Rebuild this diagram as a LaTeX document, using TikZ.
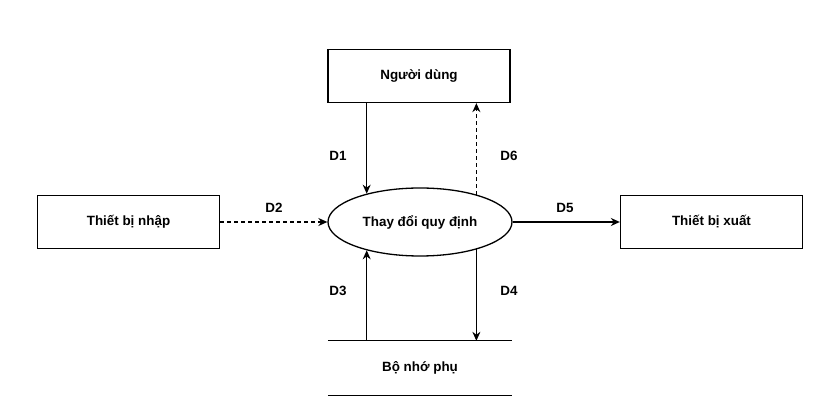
\documentclass[tikz,border=0pt]{standalone}
\usepackage{fontspec}
\setmainfont{Liberation Sans}
\usetikzlibrary{shapes.geometric, arrows.meta}
\newcommand{\chu}{\fontsize{13.4}{16}\selectfont\bfseries}
\tikzset{khoi/.style={draw, line width=1.3pt, minimum width=182pt, minimum height=53pt, inner sep=0pt, font=\chu},
  xuly/.style={draw, ellipse, line width=1.3pt, minimum width=184pt, minimum height=68pt, inner sep=0pt, font=\chu},
  luong/.style={line width=1.3pt, -{Stealth[length=9pt,width=8pt]}},
  dut/.style={luong, dash pattern=on 4pt off 3pt},
  nhan/.style={font=\chu}}

\begin{document}
\begin{tikzpicture}[x=1pt, y=-1pt]
\useasboundingbox (0,0) rectangle (820,419);
\node[khoi] (nguoidung) at (419,76) {Người dùng};
\node[xuly] (tdqd) at (420,222) {Thay đổi quy định};
\node[khoi] (nhap) at (128.5,222) {Thiết bị nhập};
\node[khoi] (xuat) at (711.5,222) {Thiết bị xuất};
\node[nhan, minimum width=184pt, minimum height=54pt, inner sep=0pt] (bonho) at (420,368) {Bộ nhớ phụ};
\draw[line width=1.3pt] (bonho.north west) -- (bonho.north east);
\draw[line width=1.3pt] (bonho.south west) -- (bonho.south east);
% luong du lieu
\draw[luong] (nguoidung.south -| tdqd.152) -- (tdqd.152);
\draw[dut] (tdqd.26) -- (nguoidung.south -| tdqd.26);
\draw[dut] (nhap.east) -- (tdqd.west);
\draw[luong] (tdqd.east) -- (xuat.west);
\draw[luong] (bonho.north -| tdqd.208) -- (tdqd.208);
\draw[luong] (tdqd.334) -- (bonho.north -| tdqd.334);
\node[nhan] (d1) at (338,156) {D1};
\node[nhan] (d6) at (509,156) {D6};
\node[nhan] (d2) at (274,208) {D2};
\node[nhan] (d5) at (565,208) {D5};
\node[nhan] (d3) at (338,291) {D3};
\node[nhan] (d4) at (509,291) {D4};
\end{tikzpicture}
\end{document}
